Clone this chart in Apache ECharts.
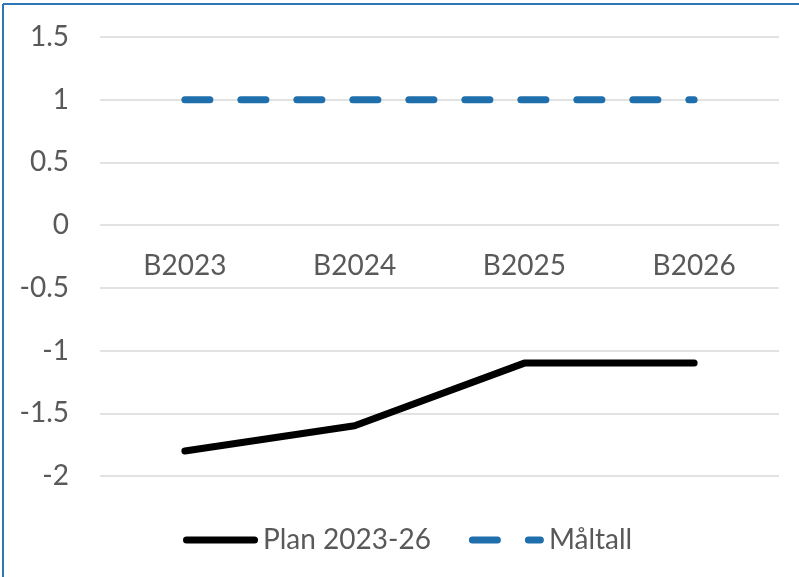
<!DOCTYPE html>
<html>
<head>
<meta charset="utf-8">
<script src="https://cdn.jsdelivr.net/npm/echarts@6/dist/echarts.min.js"></script>
<style>
html,body{margin:0;padding:0;background:#fff;}
#c{width:799px;height:577px;}
</style>
</head>
<body>
<div id="c"></div>
<script>
const categories = ['B2023', 'B2024', 'B2025', 'B2026'];
const planValues = [-1.8, -1.6, -1.1, -1.1];
const targetValues = [1, 1, 1, 1];
const seriesNames = ['Plan 2023-26', 'Måltall'];
const yTicks = { min: -2, max: 1.5, interval: 0.5 };

const FONT = 'Lato, "Open Sans", sans-serif';
const BLACK_ICON = 'path://M3.5,0 H71.5 A3.5,3.5 0 0 1 71.5,7 H3.5 A3.5,3.5 0 0 1 3.5,0 Z';
const BLUE_ICON = 'path://M3.5,0 H28.5 A3.5,3.5 0 0 1 28.5,7 H3.5 A3.5,3.5 0 0 1 3.5,0 Z M59.5,0 H71.5 A3.5,3.5 0 0 1 71.5,7 H59.5 A3.5,3.5 0 0 1 59.5,0 Z';

const chart = echarts.init(document.getElementById('c'));
chart.setOption({
  backgroundColor: '#fff',
  animation: false,
  graphic: [
    { type: 'line', shape: { x1: 3, y1: 4, x2: 799, y2: 4 }, style: { stroke: '#2e75b6', lineWidth: 2 } },
    { type: 'line', shape: { x1: 3, y1: 4, x2: 3, y2: 577 }, style: { stroke: '#2e75b6', lineWidth: 2 } }
  ],
  grid: { left: 100, right: 20, top: 37, bottom: 101, containLabel: false },
  legend: {
    top: 521,
    left: 178,
    itemWidth: 75,
    itemHeight: 7,
    itemGap: 38,
    textStyle: { fontFamily: FONT, fontSize: 28, color: '#595959' },
    data: [
      { name: seriesNames[0], icon: BLACK_ICON, itemStyle: { color: '#000' } },
      { name: seriesNames[1], icon: BLUE_ICON, itemStyle: { color: '#1f6fad' } }
    ]
  },
  xAxis: {
    type: 'category',
    data: categories,
    boundaryGap: true,
    offset: -251,
    axisLine: { show: false },
    axisTick: { show: false },
    axisLabel: { fontFamily: FONT, fontSize: 28, color: '#595959', margin: 27 }
  },
  yAxis: {
    type: 'value',
    min: yTicks.min,
    max: yTicks.max,
    interval: yTicks.interval,
    axisLine: { show: false },
    axisTick: { show: false },
    splitLine: { lineStyle: { color: '#d9d9d9', width: 1.5 } },
    axisLabel: { fontFamily: FONT, fontSize: 28, color: '#595959', margin: 31 }
  },
  series: [
    {
      name: seriesNames[0],
      type: 'line',
      data: planValues,
      symbol: 'none',
      lineStyle: { color: '#000', width: 7, cap: 'round', join: 'round' },
      itemStyle: { color: '#000' }
    },
    {
      name: seriesNames[1],
      type: 'line',
      data: targetValues,
      symbol: 'none',
      lineStyle: { color: '#1f6fad', width: 7, type: [25, 31], cap: 'round' },
      itemStyle: { color: '#1f6fad' }
    }
  ]
});
</script>
</body>
</html>
